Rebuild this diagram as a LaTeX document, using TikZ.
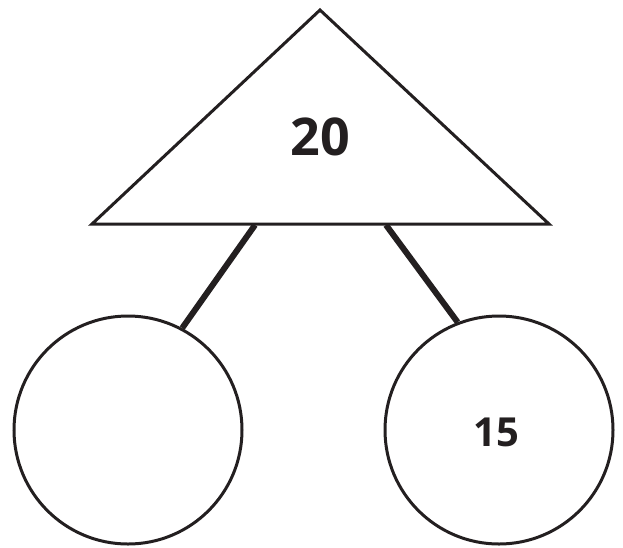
\documentclass[tikz,border=0pt]{standalone}
\usepackage{fontspec}
\setmainfont{Open Sans}
\usetikzlibrary{calc}
\definecolor{DInk}{HTML}{231F20}
\tikzset{
    bubble/.style={circle, draw=DInk, line width=3pt, minimum size=228pt, inner sep=0pt},
    link/.style={DInk, line width=6pt},
    numtext/.style={text=DInk, font=\bfseries}
}
\begin{document}
\begin{tikzpicture}[x=1pt, y=-1pt]
\useasboundingbox (0,0) rectangle (623,547);

% the whole on top
\coordinate (top) at (320,10);
\coordinate (base-left) at (92,224);
\coordinate (base-right) at (549,224);
\draw[DInk, line width=3pt, line join=miter] (top) -- (base-right) -- (base-left) -- cycle;
\node[numtext, font=\fontsize{52}{52}\selectfont\bfseries] (whole) at (320,137) {20};

% the two parts
\node[bubble] (part-left) at (128,430) {};
\node[bubble] (part-right) at (499,430) {};
\node[numtext, font=\fontsize{40}{40}\selectfont\bfseries] (right-num) at (496,432) {15};

\coordinate (foot-left) at (255,225);
\coordinate (foot-right) at (386,225);
\draw[link] (foot-left) -- (part-left.62);
\draw[link] (foot-right) -- (part-right.111);
\end{tikzpicture}
\end{document}
